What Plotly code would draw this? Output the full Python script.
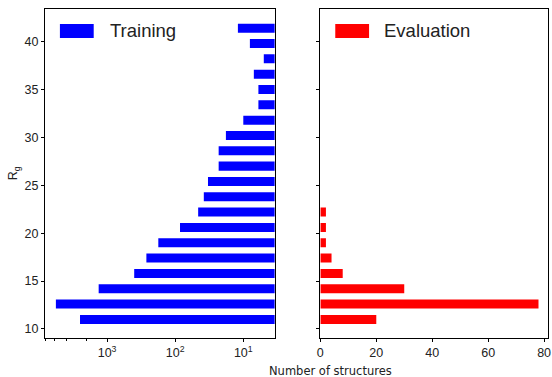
import plotly.graph_objects as go

rg_bins = [11.0, 12.6, 14.2, 15.8, 17.4, 19.0, 20.6, 22.2, 23.8, 25.4,
           27.0, 28.6, 30.2, 31.8, 33.4, 35.0, 36.6, 38.2, 39.8, 41.4]
training_counts = [2500, 5650, 1330, 400, 265, 177, 85, 46, 38, 33,
                   23, 23, 18, 10, 6, 6, 7, 5, 8, 12]
evaluation_counts = [20, 78, 30, 8, 4, 2, 2, 2, 0, 0,
                     0, 0, 0, 0, 0, 0, 0, 0, 0, 0]
y_ticks = [10, 15, 20, 25, 30, 35, 40]
log_tick_vals = [10, 100, 1000]
log_tick_text = ["10<sup>1</sup>", "10<sup>2</sup>", "10<sup>3</sup>"]
lin_tick_vals = [0, 20, 40, 60, 80]

FONT = "Arial, Liberation Sans, sans-serif"

fig = go.Figure()
fig.add_trace(go.Bar(y=rg_bins, x=training_counts, orientation="h",
                     marker=dict(color="#0000ff", line=dict(width=0)),
                     width=0.94, xaxis="x", yaxis="y", showlegend=False))
fig.add_trace(go.Bar(y=rg_bins, x=evaluation_counts, orientation="h",
                     marker=dict(color="#ff0000", line=dict(width=0)),
                     width=0.94, xaxis="x2", yaxis="y2", showlegend=False))

axis_common = dict(showline=True, linecolor="black", linewidth=1, mirror=True,
                   ticks="outside", ticklen=3, tickcolor="black", showgrid=False,
                   zeroline=False, tickfont=dict(family=FONT, size=12.5, color="#222"))

fig.update_layout(
    width=552, height=377,
    margin=dict(l=45, r=1, t=9, b=39),
    plot_bgcolor="white", paper_bgcolor="white",
    font=dict(family=FONT),
    xaxis=dict(domain=[0, 0.4565], type="log", range=[3.912, 0.54],
               tickvals=log_tick_vals, ticktext=log_tick_text,
               minor=dict(ticks="outside", ticklen=2, tickcolor="black", showgrid=False),
               anchor="y", **axis_common),
    yaxis=dict(domain=[0, 1], range=[9.06, 43.4], tickvals=y_ticks,
               anchor="x", **axis_common),
    xaxis2=dict(domain=[0.5474, 1], range=[0, 81.4], tickvals=lin_tick_vals,
                ticklabeloverflow="allow", anchor="y2", **axis_common),
    yaxis2=dict(domain=[0, 1], range=[9.06, 43.4], tickvals=y_ticks,
                showticklabels=False, anchor="x2", **axis_common),
    bargap=0.4,
)

W = 506.0
L = 45.0

# legend swatches and labels (one per panel)
fig.add_shape(type="rect", xref="paper", yref="paper",
              x0=(60 - L) / W, x1=(94 - L) / W,
              y0=(338 - 38) / 329, y1=(338 - 24) / 329,
              fillcolor="#0000ff", line=dict(width=0))
fig.add_annotation(text="Training", xref="paper", yref="paper",
                   x=(108 - L) / W, y=(338 - 31) / 329,
                   xanchor="left", yanchor="middle", showarrow=False,
                   font=dict(family=FONT, size=18.5, color="#222"))
fig.add_shape(type="rect", xref="paper", yref="paper",
              x0=(337 - L) / W, x1=(371 - L) / W,
              y0=(338 - 38) / 329, y1=(338 - 24) / 329,
              fillcolor="#ff0000", line=dict(width=0))
fig.add_annotation(text="Evaluation", xref="paper", yref="paper",
                   x=(384 - L) / W, y=(338 - 31) / 329,
                   xanchor="left", yanchor="middle", showarrow=False,
                   font=dict(family=FONT, size=18.5, color="#222"))

# axis titles
fig.add_annotation(text="Number of structures", xref="paper", yref="paper",
                   x=(332.5 - L) / W, y=(338 - 370.5) / 329,
                   xanchor="center", yanchor="middle", showarrow=False,
                   font=dict(family="DejaVu Sans", size=11.5, color="#222"))
fig.add_annotation(text="R<sub>g</sub>", xref="paper", yref="paper",
                   x=(14 - L) / W, y=(338 - 173) / 329, textangle=-90,
                   xanchor="center", yanchor="middle", showarrow=False,
                   font=dict(family=FONT, size=12.5, color="#222"))

fig.write_html("out.html", config={"displayModeBar": False},
               post_script="document.body.style.margin='0';document.body.style.overflow='hidden';")
